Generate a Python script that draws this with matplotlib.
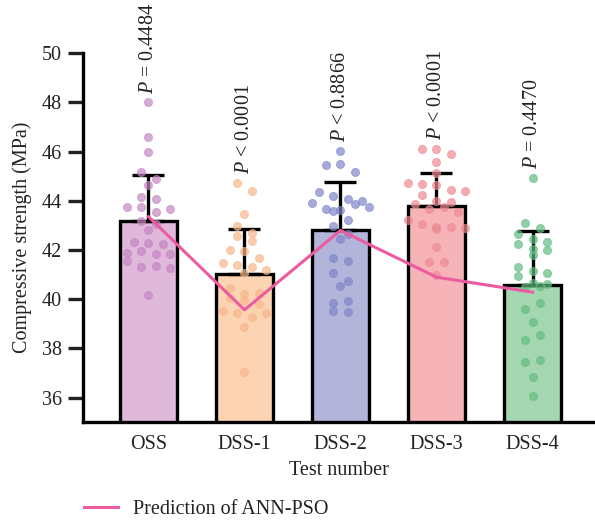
import numpy as np
import matplotlib
matplotlib.use("Agg")
import matplotlib.pyplot as plt

plt.rcParams["font.family"] = ["Liberation Serif", "DejaVu Serif"]
plt.rcParams["mathtext.fontset"] = "custom"
plt.rcParams["mathtext.it"] = "Liberation Serif:italic"
plt.rcParams["mathtext.rm"] = "Liberation Serif"

# data
groups = ["OSS", "DSS-1", "DSS-2", "DSS-3", "DSS-4"]
means = [43.18, 41.04, 42.80, 43.79, 40.58]
sds = [1.88, 1.82, 1.97, 1.36, 2.19]
pred = [43.36, 39.57, 42.80, 40.90, 40.29]
p_labels = [r"$P$ = 0.4484", r"$P$ < 0.0001", r"$P$ < 0.8866",
            r"$P$ < 0.0001", r"$P$ = 0.4470"]

oss = [48.0, 46.58, 45.97, 45.18, 44.87, 44.65, 44.16, 44.09, 43.75, 43.75,
       43.55, 43.66, 43.18, 43.07, 42.80, 42.33, 42.29, 42.23, 41.89, 41.95,
       41.85, 41.85, 41.54, 41.31, 41.34, 41.27, 40.18]
dss1 = [44.73, 44.39, 43.45, 42.97, 42.69, 42.59, 42.35, 42.02, 41.95, 41.69,
        41.47, 41.40, 41.31, 41.21, 41.06, 40.47, 40.20, 40.06, 40.25, 39.99,
        39.79, 39.54, 39.45, 39.27, 39.45, 38.89, 37.03]
dss2 = [46.03, 45.46, 45.50, 45.19, 44.35, 44.21, 44.06, 43.93, 44.01, 43.67,
        43.58, 43.63, 43.87, 43.75, 43.24, 42.97, 42.64, 42.44, 41.69, 41.54,
        41.06, 40.74, 40.53, 39.84, 39.95, 39.54, 39.47]
dss3 = [46.13, 46.09, 45.89, 45.58, 45.14, 44.73, 44.70, 44.64, 44.43, 44.39,
        44.23, 44.00, 43.86, 43.96, 43.67, 43.75, 43.55, 43.21, 43.07, 42.84,
        42.94, 42.94, 42.90, 42.12, 41.51, 41.51, 40.97]
dss4 = [44.95, 43.10, 42.90, 42.64, 42.46, 42.33, 42.23, 42.06, 41.99, 41.81,
        41.31, 41.14, 41.06, 40.94, 40.66, 40.52, 40.53, 40.63, 39.61, 39.84,
        39.07, 38.36, 38.55, 37.44, 37.54, 36.86, 36.05]
samples = [oss, dss1, dss2, dss3, dss4]

bar_colors = ["#dfb8da", "#fcd4b4", "#b3b4da", "#f6b4b9", "#a5d6b2"]
dot_colors = ["#c486c2", "#f7b78a", "#7f86c8", "#ee8a92", "#62bd80"]
line_color = "#ec5b9f"
FS = 14.5


def swarm(vals, step=0.15, rowh=0.35):
    """Prism-like row binning: points in a row spread symmetrically."""
    order = sorted(range(len(vals)), key=lambda i: -vals[i])
    rows, cur, start = [], [], None
    for i in order:
        if cur and start - vals[i] > rowh:
            rows.append(cur)
            cur = []
        if not cur:
            start = vals[i]
        cur.append(i)
    rows.append(cur)
    offs = np.zeros(len(vals))
    for r in rows:
        n = len(r)
        for k, i in enumerate(sorted(r)):
            offs[i] = (k - (n - 1) / 2) * step
    return offs


fig = plt.figure(figsize=(5.95, 5.21), dpi=100)
ax = fig.add_axes([83 / 595, 98.7 / 521, 512 / 595, 369 / 521])

x = np.arange(len(groups))
ax.bar(x, means, width=0.6, color=bar_colors, edgecolor="black",
       linewidth=2.4, zorder=2)
ax.errorbar(x, means, yerr=[np.zeros(len(sds)), sds], fmt="none",
            ecolor="black", elinewidth=2.4, capsize=11.5, capthick=2.4,
            zorder=3)

for xi, vals, dc, lab in zip(x, samples, dot_colors, p_labels):
    offs = swarm(vals)
    ax.scatter(xi + offs, vals, s=34, color=dc, alpha=0.7,
               edgecolor=dc, linewidth=0.6, zorder=4)
    ax.text(xi, max(vals) + 0.35, lab, rotation=90, ha="center", va="bottom",
            fontsize=FS, color="#222222")

pred_line, = ax.plot(x, pred, color=line_color, linewidth=2.2, zorder=5,
                     label="Prediction of ANN-PSO")

ax.set_ylim(35, 50)
ax.set_xlim(-0.682, 4.651)
ax.set_yticks([36, 38, 40, 42, 44, 46, 48, 50])
ax.set_xticks(x)
ax.set_xticklabels(groups)
ax.tick_params(axis="y", length=11, width=2.4, labelsize=FS, pad=4,
               colors="#222222")
ax.tick_params(axis="x", length=0, labelsize=FS, pad=9, colors="#222222")
ax.spines["top"].set_visible(False)
ax.spines["right"].set_visible(False)
ax.spines["left"].set_linewidth(2.4)
ax.spines["bottom"].set_linewidth(2.4)
ax.spines["left"].set_bounds(35, 50)
ax.set_ylabel("Compressive strength (MPa)", fontsize=FS, color="#222222",
              labelpad=7)
ax.set_xlabel("Test number", fontsize=FS, color="#222222", labelpad=5)

fig.legend(handles=[pred_line], loc="center left",
           bbox_to_anchor=(84 / 595, 1 - 509 / 521), frameon=False,
           fontsize=FS, handlelength=1.7, handletextpad=0.75,
           borderpad=0, borderaxespad=0, labelcolor="#222222")

fig.savefig("out.png", dpi=100)
